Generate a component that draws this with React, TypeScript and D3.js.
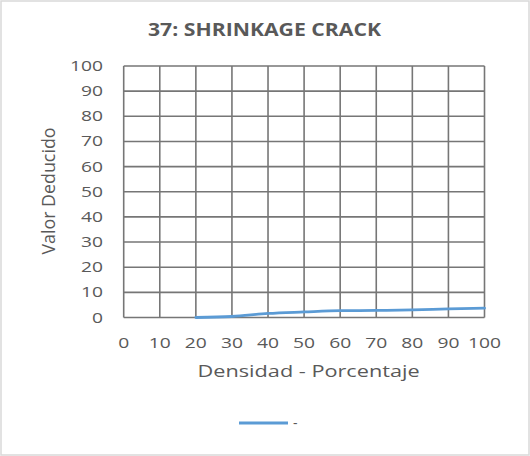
import React from "react";
import * as d3 from "d3";

const xValues = [20, 30, 40, 50, 60, 70, 80, 90, 100];
const yValues = [0, 0.4, 1.6, 2.2, 2.7, 2.8, 3.0, 3.4, 3.7];
const xTicks = [0, 10, 20, 30, 40, 50, 60, 70, 80, 90, 100];
const yTicks = [0, 10, 20, 30, 40, 50, 60, 70, 80, 90, 100];
const title = "37: SHRINKAGE CRACK";
const xTitle = "Densidad - Porcentaje";
const yTitle = "Valor Deducido";
const seriesName = "-";

export default function App() {
  const W = 530, H = 456;
  const left = 123.7, right = 484.5, top = 66, bottom = 317.5;
  const x = d3.scaleLinear().domain([0, 100]).range([left, right]);
  const y = d3.scaleLinear().domain([0, 100]).range([bottom, top]);
  const line = d3.line<number>().x((_, i) => x(xValues[i])).y((d) => y(d)).curve(d3.curveMonotoneX);
  const font = "'Open Sans', 'Liberation Sans', sans-serif";
  const grey = "#595959";
  const digitW = 11;
  return (
    <svg width={W} height={H} style={{ position: "absolute", left: 0, top: 0 }}>
      <rect x={1} y={1} width={W - 2} height={H - 2} fill="#fff" stroke="#d9d9d9" strokeWidth={1.5} />
      <text x={148} y={36} textLength={233} lengthAdjust="spacingAndGlyphs" fontFamily={font} fontWeight="bold" fontSize={17.5} fill={grey}>{title}</text>
      {yTicks.map((t) => (
        <line key={"h" + t} x1={left} x2={right} y1={y(t)} y2={y(t)} stroke="#767676" strokeWidth={1.6} />
      ))}
      {xTicks.map((t) => (
        <line key={"v" + t} x1={x(t)} x2={x(t)} y1={top} y2={bottom} stroke="#767676" strokeWidth={1.6} />
      ))}
      {yTicks.map((t) => {
        const w = String(t).length * digitW;
        return (
          <text key={"yl" + t} x={103 - w} y={y(t) + 5} textLength={w} lengthAdjust="spacingAndGlyphs" fontFamily={font} fontSize={14.5} fill={grey}>{t}</text>
        );
      })}
      {xTicks.map((t) => {
        const w = String(t).length * digitW;
        return (
          <text key={"xl" + t} x={x(t) - w / 2} y={347.5} textLength={w} lengthAdjust="spacingAndGlyphs" fontFamily={font} fontSize={14.5} fill={grey}>{t}</text>
        );
      })}
      <path d={line(yValues) || ""} fill="none" stroke="#5b9bd5" strokeWidth={2.8} strokeLinecap="round" />
      <text x={197.6} y={377} textLength={222} lengthAdjust="spacingAndGlyphs" fontFamily={font} fontSize={17} fill={grey}>{xTitle}</text>
      <text transform={`translate(55,191) rotate(-90)`} x={-63.5} y={0} textLength={127} lengthAdjust="spacingAndGlyphs" fontFamily={font} fontSize={17.5} fill={grey}>{yTitle}</text>
      <line x1={239} x2={288} y1={423} y2={423} stroke="#5b9bd5" strokeWidth={2.8} />
      <text x={293} y={428} fontFamily={font} fontSize={14} fill={grey}>{seriesName}</text>
    </svg>
  );
}
